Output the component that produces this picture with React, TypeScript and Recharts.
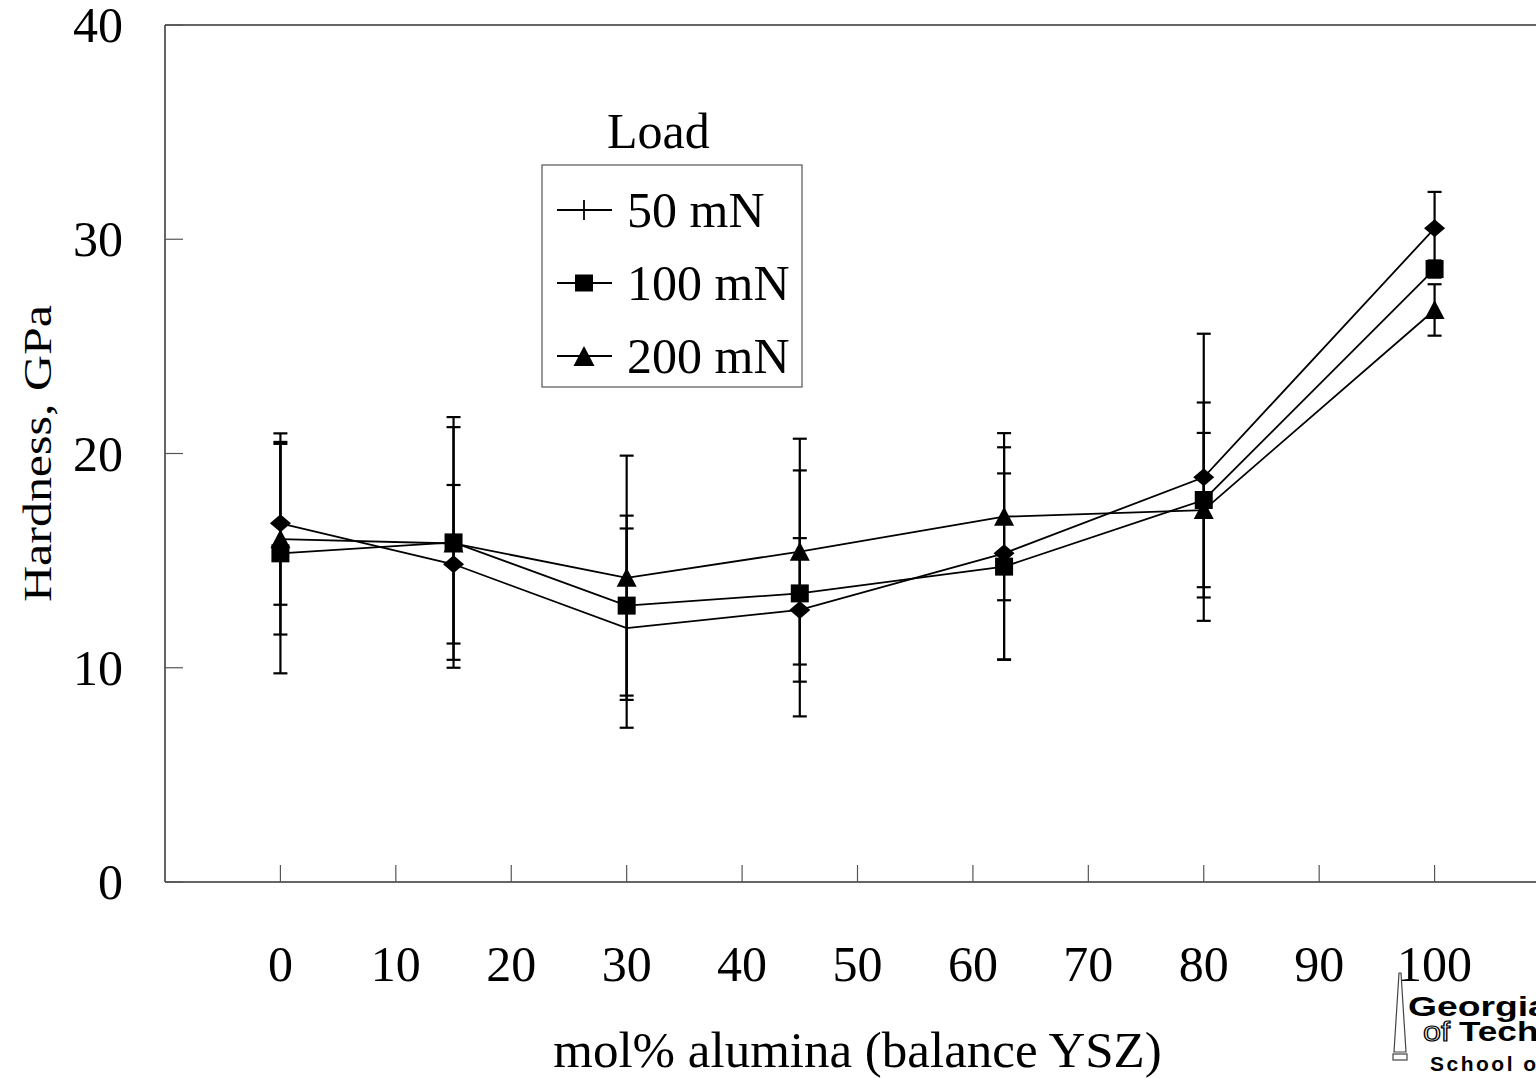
import React from 'react';
import { LineChart, Line, XAxis, YAxis, ErrorBar, ReferenceLine, Legend } from 'recharts';

// ---- data ----
const compositions = [0, 15, 30, 45, 62.7, 80, 100];
const hardness50 = [16.74, 14.83, 11.85, 12.7, 15.34, 18.89, 30.51];
const error50 = [3.8, 3.7, 4.65, 3.35, 4.95, 6.7, 1.7];
const marker50 = [true, true, false, true, true, true, true];
const hardness100 = [15.34, 15.85, 12.9, 13.47, 14.72, 17.83, 28.61];
const error100 = [5.6, 5.85, 4.2, 5.74, 4.35, 4.55, 0.4];
const hardness200 = [16.0, 15.8, 14.2, 15.42, 17.05, 17.36, 26.7];
const error200 = [4.45, 5.43, 5.7, 5.27, 3.9, 3.6, 1.2];

const xTicks = [0, 10, 20, 30, 40, 50, 60, 70, 80, 90, 100];
const yTicks = [0, 10, 20, 30, 40];
const seriesNames = ['50 mN', '100 mN', '200 mN'];
const legendTitle = 'Load';
const xTitle = 'mol% alumina (balance YSZ)';
const yTitle = 'Hardness, GPa';
const logoLines = ['Georgia', 'of', 'Tech', 'School of'];

const data = compositions.map((x, i) => ({
  x,
  h50: hardness50[i],
  e50: error50[i],
  show50: marker50[i],
  h100: hardness100[i],
  e100: error100[i],
  h200: hardness200[i],
  e200: error200[i],
}));

const FONT = '"Liberation Serif", "Times New Roman", Times, serif';
const SANS = '"Liberation Sans", Arial, Helvetica, sans-serif';

function XTick(props: any) {
  const { x, y, payload } = props;
  return (
    <g>
      <line x1={x} y1={y} x2={x} y2={y - 17} stroke="#555" strokeWidth={1.2} />
      <text x={x} y={y + 99} textAnchor="middle" fontFamily={FONT} fontSize={50} fill="#000">
        {payload.value}
      </text>
    </g>
  );
}

function YTick(props: any) {
  const { x, y, payload } = props;
  return (
    <g>
      <line x1={x} y1={y} x2={x + 18} y2={y} stroke="#555" strokeWidth={1.2} />
      <text x={x - 42} y={y + 17} textAnchor="end" fontFamily={FONT} fontSize={50} fill="#000">
        {payload.value}
      </text>
    </g>
  );
}

function DiamondDot(props: any) {
  const { cx, cy, payload, index } = props;
  if (cx == null || cy == null || !payload.show50) return <g key={`d${index}`} />;
  return (
    <polygon
      key={`d${index}`}
      points={`${cx},${cy - 9} ${cx + 10.5},${cy} ${cx},${cy + 9} ${cx - 10.5},${cy}`}
      fill="#000"
    />
  );
}

function SquareDot(props: any) {
  const { cx, cy, index } = props;
  if (cx == null || cy == null) return <g key={`s${index}`} />;
  return <rect key={`s${index}`} x={cx - 9} y={cy - 9} width={18} height={18} fill="#000" />;
}

function TriangleDot(props: any) {
  const { cx, cy, index } = props;
  if (cx == null || cy == null) return <g key={`t${index}`} />;
  return (
    <polygon key={`t${index}`} points={`${cx},${cy - 10} ${cx + 10},${cy + 9} ${cx - 10},${cy + 9}`} fill="#000" />
  );
}

function LegendSymbol({ kind, cy }: { kind: number; cy: number }) {
  const cx = 43;
  return (
    <g>
      <line x1={16} y1={cy} x2={71} y2={cy} stroke="#000" strokeWidth={1.8} />
      {kind === 0 && <line x1={cx} y1={cy - 10} x2={cx} y2={cy + 10} stroke="#000" strokeWidth={1.8} />}
      {kind === 1 && <rect x={cx - 9} y={cy - 8.5} width={18} height={17} fill="#000" />}
      {kind === 2 && <polygon points={`${cx},${cy - 10} ${cx + 10.5},${cy + 10} ${cx - 10.5},${cy + 10}`} fill="#000" />}
    </g>
  );
}

function LegendContent() {
  return (
    <svg width={264} height={292} style={{ display: 'block', overflow: 'visible' }}>
      <text x={66} y={48} fontFamily={FONT} fontSize={50} fill="#000">
        {legendTitle}
      </text>
      <rect x={1} y={65} width={260} height={222} fill="#fff" stroke="#555" strokeWidth={1.2} />
      {seriesNames.map((name, i) => {
        const cy = 110 + 73 * i;
        return (
          <g key={name}>
            <LegendSymbol kind={i} cy={cy} />
            <text x={86} y={cy + 17} fontFamily={FONT} fontSize={50} fill="#000">
              {name}
            </text>
          </g>
        );
      })}
    </svg>
  );
}

function YTitle(props: any) {
  const vb = props.viewBox || { x: 0, y: 25, width: 165, height: 857 };
  const cx = vb.x + 37;
  const cy = vb.y + vb.height / 2;
  return (
    <text
      transform={`translate(${cx},${cy}) scale(0.8,1) rotate(-90)`}
      x={0}
      y={17}
      textAnchor="middle"
      fontFamily={FONT}
      fontSize={50}
      fill="#000"
    >
      {yTitle}
    </text>
  );
}

const logoBase: React.CSSProperties = {
  position: 'absolute',
  fontFamily: SANS,
  fontWeight: 900,
  fontSize: 27,
  lineHeight: '21px',
  whiteSpace: 'nowrap',
  transformOrigin: 'left top',
  color: '#000',
};

export default function App() {
  return (
    <div
      style={{
        position: 'absolute',
        left: 0,
        top: 0,
        width: 1536,
        height: 1078,
        overflow: 'hidden',
        background: '#fff',
      }}
    >
      <LineChart width={1560} height={1078} data={data} margin={{ top: 25, right: 10, left: 0, bottom: 0 }}>
        <XAxis
          dataKey="x"
          type="number"
          domain={[-10, 110]}
          ticks={xTicks}
          interval={0}
          height={196}
          tickSize={0}
          tickMargin={0}
          tickLine={false}
          axisLine={{ stroke: '#333', strokeWidth: 1.5 }}
          tick={<XTick />}
          label={{
            value: xTitle,
            position: 'insideBottom',
            offset: 11,
            fill: '#000',
            fontSize: 51,
            fontFamily: FONT,
          }}
        />
        <YAxis
          type="number"
          domain={[0, 40]}
          ticks={yTicks}
          interval={0}
          width={165}
          tickSize={0}
          tickMargin={0}
          tickLine={false}
          axisLine={{ stroke: '#333', strokeWidth: 1.5 }}
          tick={<YTick />}
          label={<YTitle />}
        />
        <ReferenceLine y={40} stroke="#333" strokeWidth={1.5} />
        <ReferenceLine x={110} stroke="#333" strokeWidth={1.5} />
        <Legend
          layout="horizontal"
          verticalAlign="middle"
          align="center"
          wrapperStyle={{ position: 'absolute', left: 541, top: 100, width: 264, height: 292 }}
          content={<LegendContent />}
        />
        <Line
          name={seriesNames[0]}
          dataKey="h50"
          type="linear"
          stroke="#000"
          strokeWidth={1.8}
          dot={DiamondDot}
          activeDot={false}
          isAnimationActive={false}
        >
          <ErrorBar dataKey="e50" direction="y" width={7} stroke="#000" strokeWidth={2.2} isAnimationActive={false} />
        </Line>
        <Line
          name={seriesNames[1]}
          dataKey="h100"
          type="linear"
          stroke="#000"
          strokeWidth={1.8}
          dot={SquareDot}
          activeDot={false}
          isAnimationActive={false}
        >
          <ErrorBar dataKey="e100" direction="y" width={7} stroke="#000" strokeWidth={2.2} isAnimationActive={false} />
        </Line>
        <Line
          name={seriesNames[2]}
          dataKey="h200"
          type="linear"
          stroke="#000"
          strokeWidth={1.8}
          dot={TriangleDot}
          activeDot={false}
          isAnimationActive={false}
        >
          <ErrorBar dataKey="e200" direction="y" width={7} stroke="#000" strokeWidth={2.2} isAnimationActive={false} />
        </Line>
      </LineChart>

      {/* institution logo, lower right (partially outside the frame, like the reference) */}
      <svg style={{ position: 'absolute', left: 1390, top: 970 }} width={22} height={96}>
        <polygon points="9,3 11,3 16,82 4,82" fill="none" stroke="#444" strokeWidth={1.2} />
        <rect x={3} y={84} width={14} height={6} fill="none" stroke="#444" strokeWidth={1.2} />
      </svg>
      <div style={{ ...logoBase, left: 1408, top: 997, transform: 'scaleX(1.38)' }}>{logoLines[0]}</div>
      <div
        style={{
          ...logoBase,
          left: 1423,
          top: 1022,
          fontWeight: 400,
          color: '#fff',
          WebkitTextStroke: '1.2px #000',
          transform: 'scaleX(1.2)',
        }}
      >
        {logoLines[1]}
      </div>
      <div style={{ ...logoBase, left: 1459, top: 1022, transform: 'scaleX(1.3)' }}>{logoLines[2]}</div>
      <div
        style={{
          ...logoBase,
          left: 1430,
          top: 1055,
          fontWeight: 700,
          fontSize: 21,
          lineHeight: '17px',
          letterSpacing: 2.5,
        }}
      >
        {logoLines[3]}
      </div>
    </div>
  );
}
